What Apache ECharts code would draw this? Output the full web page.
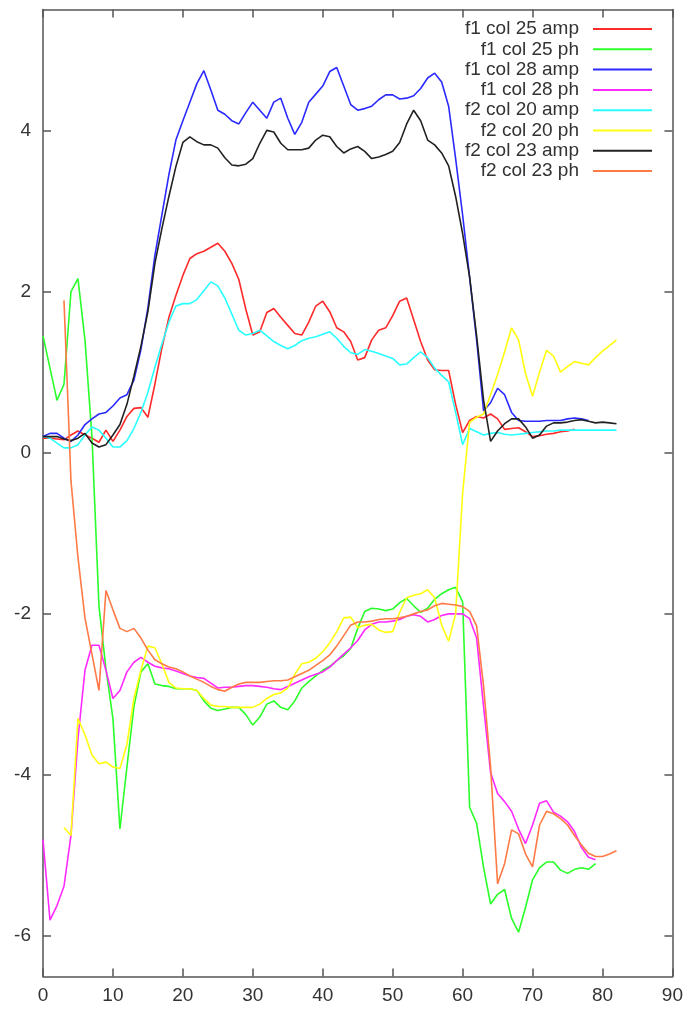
<!DOCTYPE html>
<html><head><meta charset="utf-8">
<script src="https://cdn.jsdelivr.net/npm/echarts@6/dist/echarts.min.js"></script>
<style>html,body{margin:0;padding:0;background:#fff}#c{width:686px;height:1009px}</style>
</head><body><div id="c"></div>
<script>
// x positions (sample index)
const X = [0,1,2,3,4,5,6,7,8,9,10,11,12,13,14,15,16,17,18,19,20,21,22,23,24,25,26,27,28,29,30,31,32,33,34,35,36,37,38,39,40,41,42,43,44,45,46,47,48,49,50,51,52,53,54,55,56,57,58,59,60,61,62,63,64,65,66,67,68,69,70,71,72,73,74,75,76,77,78,79,80,81,82];
const xTicks = [0,10,20,30,40,50,60,70,80,90];
const yTicks = [-6,-4,-2,0,2,4];
const names = ['f1 col 25 amp','f1 col 25 ph','f1 col 28 amp','f1 col 28 ph','f2 col 20 amp','f2 col 20 ph','f2 col 23 amp','f2 col 23 ph'];
const colors = ['#ff2a2a','#2aff2a','#2a2aff','#ff2aff','#2affff','#ffff10','#222222','#ff7a45'];
// first x index of each series
const starts = [0,0,0,0,0,3,0,3];

const f1c25amp = [0.18,0.18,0.17,0.16,0.22,0.27,0.22,0.18,0.13,0.28,
0.14,0.28,0.45,0.55,0.56,0.44,0.85,1.30,1.68,1.95,
2.20,2.41,2.47,2.50,2.55,2.60,2.50,2.35,2.15,1.78,
1.46,1.50,1.74,1.79,1.68,1.58,1.48,1.46,1.62,1.82,
1.88,1.75,1.55,1.50,1.38,1.15,1.18,1.40,1.52,1.55,
1.70,1.88,1.92,1.65,1.38,1.15,1.03,1.02,1.02,0.60,
0.25,0.40,0.45,0.43,0.48,0.42,0.29,0.30,0.31,0.26,
0.20,0.21,0.23,0.24,0.26,0.27,0.29];

const f1c25ph = [1.45,1.05,0.65,0.85,2.00,2.16,1.40,0.20,-1.90,-2.68,
-3.30,-4.67,-3.90,-3.15,-2.72,-2.62,-2.87,-2.89,-2.90,-2.93,
-2.93,-2.93,-2.95,-3.08,-3.17,-3.20,-3.18,-3.16,-3.16,-3.25,
-3.38,-3.28,-3.12,-3.08,-3.16,-3.19,-3.08,-2.92,-2.84,-2.77,
-2.70,-2.65,-2.58,-2.52,-2.43,-2.18,-1.97,-1.93,-1.94,-1.96,
-1.94,-1.86,-1.81,-1.90,-1.98,-1.93,-1.82,-1.75,-1.70,-1.67,
-1.85,-4.40,-4.60,-5.15,-5.60,-5.48,-5.42,-5.78,-5.95,-5.64,
-5.30,-5.15,-5.08,-5.08,-5.18,-5.22,-5.17,-5.15,-5.17,-5.10];

const f1c28amp = [0.20,0.24,0.24,0.18,0.14,0.22,0.35,0.42,0.48,0.50,
0.58,0.68,0.72,0.90,1.28,1.80,2.45,2.95,3.45,3.88,
4.12,4.35,4.58,4.74,4.50,4.25,4.20,4.12,4.08,4.22,
4.35,4.25,4.15,4.35,4.40,4.15,3.95,4.10,4.35,4.45,
4.55,4.73,4.78,4.55,4.32,4.25,4.27,4.30,4.38,4.44,
4.44,4.39,4.40,4.43,4.52,4.65,4.71,4.60,4.30,3.65,
2.95,2.18,1.40,0.52,0.62,0.80,0.72,0.50,0.40,0.39,
0.39,0.39,0.40,0.40,0.40,0.42,0.43,0.42,0.40];

const f1c28ph = [-4.80,-5.80,-5.62,-5.38,-4.75,-3.55,-2.70,-2.39,-2.39,-2.70,
-3.05,-2.95,-2.72,-2.60,-2.54,-2.60,-2.65,-2.67,-2.68,-2.71,
-2.74,-2.77,-2.79,-2.80,-2.86,-2.92,-2.91,-2.91,-2.90,-2.89,
-2.89,-2.90,-2.91,-2.93,-2.94,-2.90,-2.86,-2.82,-2.78,-2.75,
-2.72,-2.66,-2.58,-2.50,-2.42,-2.33,-2.20,-2.13,-2.10,-2.10,
-2.09,-2.07,-2.03,-2.01,-2.03,-2.10,-2.07,-2.02,-2.00,-2.00,
-2.00,-2.06,-2.30,-3.15,-3.97,-4.23,-4.33,-4.45,-4.67,-4.85,
-4.62,-4.35,-4.32,-4.46,-4.51,-4.58,-4.70,-4.90,-5.02,-5.05];

const f2c20amp = [0.20,0.18,0.12,0.06,0.06,0.10,0.22,0.32,0.28,0.18,
0.07,0.07,0.15,0.30,0.50,0.75,1.06,1.35,1.62,1.82,
1.85,1.85,1.90,2.01,2.12,2.07,1.92,1.72,1.52,1.46,
1.48,1.52,1.45,1.38,1.33,1.29,1.33,1.39,1.42,1.44,
1.47,1.50,1.42,1.32,1.24,1.22,1.28,1.26,1.23,1.20,
1.17,1.09,1.10,1.18,1.25,1.18,1.05,0.96,0.88,0.50,
0.10,0.30,0.26,0.22,0.24,0.25,0.23,0.22,0.23,0.24,
0.25,0.26,0.27,0.27,0.28,0.28,0.28,0.28,0.28,0.28,
0.28,0.28,0.28];

const f2c20ph = [-4.65,-4.75,-3.30,-3.50,-3.75,-3.86,-3.84,
-3.90,-3.92,-3.62,-3.05,-2.70,-2.40,-2.42,-2.62,-2.85,-2.92,
-2.93,-2.93,-2.95,-3.05,-3.13,-3.15,-3.15,-3.16,-3.16,-3.16,
-3.16,-3.12,-3.05,-3.00,-2.98,-2.92,-2.75,-2.62,-2.60,-2.55,
-2.47,-2.36,-2.22,-2.05,-2.04,-2.17,-2.14,-2.13,-2.20,-2.23,
-2.22,-1.98,-1.80,-1.77,-1.75,-1.70,-1.80,-2.14,-2.34,-2.00,
-0.50,0.38,0.44,0.48,0.72,0.97,1.25,1.55,1.40,0.98,
0.70,1.00,1.27,1.20,1.00,1.07,1.13,1.11,1.09,1.18,
1.26,1.33,1.40];

const f2c23amp = [0.20,0.20,0.20,0.17,0.15,0.18,0.24,0.12,0.07,0.10,
0.22,0.35,0.60,0.95,1.32,1.75,2.35,2.78,3.18,3.55,
3.85,3.92,3.86,3.82,3.82,3.78,3.66,3.57,3.56,3.58,
3.65,3.84,4.00,3.98,3.84,3.76,3.76,3.76,3.78,3.88,
3.94,3.92,3.80,3.72,3.77,3.80,3.74,3.65,3.67,3.70,
3.74,3.85,4.08,4.25,4.12,3.88,3.82,3.72,3.56,3.18,
2.72,2.18,1.45,0.65,0.14,0.27,0.36,0.42,0.42,0.32,
0.18,0.22,0.33,0.37,0.37,0.38,0.40,0.41,0.39,0.37,
0.38,0.37,0.36];

const f2c23ph = [1.89,-0.35,-1.30,-2.05,-2.50,-2.95,-1.71,
-1.95,-2.18,-2.22,-2.18,-2.30,-2.45,-2.57,-2.62,-2.66,-2.68,
-2.72,-2.77,-2.81,-2.85,-2.90,-2.94,-2.96,-2.91,-2.87,-2.85,
-2.85,-2.85,-2.84,-2.83,-2.83,-2.82,-2.78,-2.74,-2.70,-2.64,
-2.58,-2.51,-2.40,-2.27,-2.14,-2.10,-2.10,-2.09,-2.07,-2.06,
-2.06,-2.05,-2.03,-2.00,-1.97,-1.95,-1.90,-1.87,-1.88,-1.89,
-1.91,-1.97,-2.15,-2.90,-3.90,-5.35,-5.10,-4.68,-4.73,-4.98,
-5.14,-4.62,-4.45,-4.48,-4.54,-4.62,-4.75,-4.87,-4.97,-5.01,
-5.01,-4.98,-4.94];

const seriesValues = [f1c25amp,f1c25ph,f1c28amp,f1c28ph,f2c20amp,f2c20ph,f2c23amp,f2c23ph];

const FONT = "'Liberation Sans', Arial, sans-serif";
const lineStyle = {color:'#555', width:1.5};
function xAx(pos, labels){
  return {type:'value', min:0, max:90, interval:10, position:pos,
    axisLine:{show:true, onZero:false, lineStyle},
    axisTick:{show:true, inside:true, length:8, lineStyle, customValues:xTicks},
    axisLabel:{show:labels, customValues:xTicks, margin:10, color:'#333', fontSize:19, fontFamily:FONT},
    splitLine:{show:false}};
}
function yAx(pos, labels){
  return {type:'value', min:-6.5, max:5.5, position:pos,
    axisLine:{show:true, onZero:false, lineStyle},
    axisTick:{show:true, inside:true, length:8, lineStyle, customValues:yTicks},
    axisLabel:{show:labels, customValues:yTicks, margin:12, color:'#333', fontSize:19, fontFamily:FONT},
    splitLine:{show:false}};
}

const chart = echarts.init(document.getElementById('c'), null, {renderer:'canvas'});
chart.setOption({
  animation:false,
  backgroundColor:'#fff',
  grid:{left:43, right:12, top:9.5, bottom:32.5, containLabel:false},
  xAxis:[xAx('bottom', true), xAx('top', false)],
  yAxis:[yAx('left', true), yAx('right', false)],
  legend:{orient:'vertical', right:29, top:14, align:'right', icon:'rect',
    itemWidth:59, itemHeight:2, itemGap:0.3,
    textStyle:{fontSize:19, lineHeight:20, color:'#333', fontFamily:FONT, padding:[0,9,0,0]},
    data:names},
  series: seriesValues.map((vals, k) => ({
    name:names[k], type:'line', xAxisIndex:0, yAxisIndex:0,
    showSymbol:false, symbol:'none', smooth:false,
    color:colors[k],
    lineStyle:{color:colors[k], width:1.6},
    itemStyle:{color:colors[k]},
    data: vals.map((v,i) => [X[i + starts[k]], v])
  }))
});
</script>
</body></html>
